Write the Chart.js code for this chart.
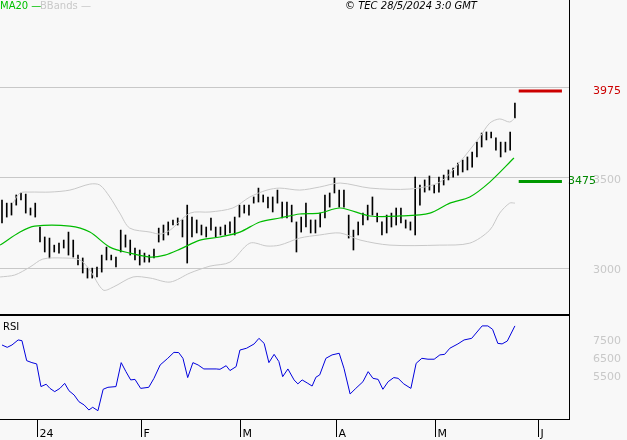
<!DOCTYPE html>
<html><head><meta charset="utf-8">
<script src="https://cdn.jsdelivr.net/npm/chart.js@4"></script>
<style>
body{margin:0;background:#f8f8f8;width:627px;height:440px;overflow:hidden;position:relative;font-family:"DejaVu Sans",sans-serif}
canvas{position:absolute;left:0}
#c1{top:0}
#c2{top:316px}
#sep{position:absolute;left:0;top:314px;width:570px;height:2px;background:#000}
#vline{position:absolute;left:569px;top:0;width:1px;height:419px;background:#000}
.t{position:absolute;font-size:10px;white-space:nowrap}
</style></head><body>
<canvas id="c1" width="627" height="315"></canvas>
<canvas id="c2" width="627" height="124"></canvas>
<div id="sep"></div><div id="vline"></div>
<div class="t" style="left:0;top:0;color:#00c000">MA20 —</div>
<div class="t" style="left:40px;top:0;color:#c8c8c8">BBands —</div>
<div class="t" style="left:345px;top:0;color:#000;font-style:italic">© TEC 28/5/2024 3:0 GMT</div>
<div class="t" style="left:3px;top:321px;color:#000">RSI</div>
<script>
// price bars, one per trading day
const highs = [3373,3356,3356,3401,3412,3406,3329,3356,3224,3169,3163,3124,3135,3152,3196,3152,3069,3053,2997,2997,
  3003,3069,3113,3069,3058,3207,3180,3152,3108,3097,3080,3069,3102,3218,3235,3252,3263,3274,3263,3345,
  3279,3263,3235,3224,3274,3224,3224,3235,3252,3279,3345,3345,3345,3390,3439,3401,3390,3390,3428,3362,
  3362,3345,3252,3279,3356,3263,3263,3301,3401,3412,3495,3428,3428,3290,3207,3252,3301,3345,3390,3301,
  3252,3290,3301,3329,3329,3263,3252,3500,3456,3484,3506,3456,3500,3511,3539,3550,3577,3594,3611,3638,
  3693,3743,3749,3749,3716,3693,3693,3749,3909];
const lows = [3246,3279,3290,3345,3373,3301,3290,3279,3141,3086,3053,3086,3080,3108,3069,3058,3014,2970,2942,2942,
  2948,2975,3042,3042,3003,3086,3113,3069,3042,3014,3030,3030,3053,3141,3152,3180,3235,3235,3169,3025,
  3169,3191,3180,3169,3207,3169,3180,3180,3191,3180,3279,3301,3290,3356,3362,3362,3329,3307,3356,3274,
  3274,3252,3086,3196,3224,3191,3191,3224,3274,3334,3412,3334,3334,3163,3097,3180,3235,3263,3290,3252,
  3180,3191,3224,3235,3246,3218,3207,3180,3345,3417,3428,3412,3417,3456,3484,3500,3511,3528,3539,3555,
  3611,3666,3705,3716,3649,3611,3638,3649,3826];

const maX = [-0.4,3.8,6.9,14.3,18.5,22.7,26.9,31.2,34.3,37.5,41.7,45.9,50.1,54.3,58.5,62.7,66.9,71.2,77.5,83.8,90.1,94.3,98.5,102.7,107.8];
const maV = [3124,3196,3229,3229,3196,3113,3080,3058,3069,3102,3152,3169,3196,3252,3274,3296,3301,3329,3285,3285,3301,3356,3390,3472,3605];

const upX = [2.3,3.8,5.9,10.1,14.3,18.5,20.6,22.7,24.8,26.9,31.2,33.3,35.4,39.6,43.8,48.6,52.2,55.8,58.5,62.7,66.9,71.2,77.5,85.9,92.2,96.4,100.6,102.7,104.8,106.9,108];
const upV = [3356,3412,3417,3417,3428,3461,3456,3390,3301,3218,3196,3185,3207,3301,3307,3329,3390,3428,3439,3428,3445,3467,3439,3434,3472,3583,3721,3798,3821,3804,3826];
const loX = [-0.4,2.7,5.9,8.6,12.8,16.4,18.5,21.3,23.4,27.6,31.2,35.4,39.6,43.8,48,52.2,55.8,58.5,62.7,66.9,71.2,75.4,81.7,92.2,98.5,102.7,104.8,106.9,108];
const loV = [2948,2959,3003,3047,3053,3042,2986,2876,2892,2948,2942,2920,2970,3008,3030,3135,3119,3124,3163,3180,3191,3152,3124,3124,3135,3207,3301,3356,3356];

const rsiX = [0,1.1,2.1,3.4,4.2,5.2,6.3,7.3,8.2,9.3,10.1,11.1,12.2,13.2,14.1,15.2,16.2,17.3,18.3,19.1,20.2,21.3,22.3,24,25.1,26.1,27.1,28,29.2,30.9,32,33.3,34.9,36.2,37.2,38.1,39.1,40.2,41.3,42.5,45.1,45.9,47.2,48,49.3,50.1,51.5,53.1,54.1,55.2,56.2,57.3,58.3,59.1,60.2,61.5,62.3,63.2,64.4,65.3,66.1,66.9,68.2,69.5,71,72,73.3,74.5,76,77.1,78.1,79.2,80.2,81.3,82.5,83.4,84.6,86.1,87.2,88.4,89.7,91,92.2,93.2,94.3,96,97.3,98.9,101.1,102.3,103.3,104.4,105.3,106.4,108];
const rsiV = [71.1,69.8,71.1,73.9,73.5,62.4,61.3,60.6,48,49.3,47,45.2,47,49.8,45.7,43.3,39.6,37.8,35,36.5,34.6,46.5,47.6,48,61.3,56.3,51.7,52,47,47.6,52.6,60,63.7,67,66.9,63.7,53,61.3,60,57.8,57.8,57.6,59.6,56.9,59.1,68.3,69.3,71.7,74.8,72,61.3,65.9,61.9,53.5,57.8,51.7,49.5,51.7,49.8,48.3,53.2,54.5,63.7,65.6,66.5,58.2,43.9,47,50.7,56.3,52.6,52,46.5,50.7,53,52.6,49.5,47,60.9,63.7,63.2,63.2,65.6,65.9,69.3,71.7,73.9,74.8,81.7,81.7,79.8,72,71.7,73.3,81.7];

const priceTicks = [3000,3500,4000];
const priceLabels = ['3000','3500',''];
const rsiTicks = [55,65,75];
const rsiLabels = ['5500','6500','7500'];
const monthLabels = ['24','F','M','A','M','J'];
const monthPos = [7.4,29.3,50.1,70.3,91.2,112.8];
const resistance = 3975, support = 3475;

const X_MIN = -0.42, X_MAX = 119.6;
const pts = (xs, vs) => xs.map((x, i) => ({x: x, y: vs[i]}));

// right-hand tick labels (and optional gridlines) drawn from the y scale
function axisPlugin(ticks, labels, grid) {
  return {
    id: 'rightAxis',
    beforeDatasetsDraw(chart) {
      if (!grid) return;
      const c = chart.ctx, y = chart.scales.y;
      c.save();
      c.strokeStyle = '#c8c8c8';
      c.lineWidth = 1;
      ticks.forEach(v => {
        const py = Math.round(y.getPixelForValue(v)) + 0.5;
        c.beginPath(); c.moveTo(0, py); c.lineTo(570, py); c.stroke();
      });
      c.restore();
    },
    afterDraw(chart) {
      const c = chart.ctx, y = chart.scales.y;
      c.save();
      c.font = '11px DejaVu Sans';
      c.fillStyle = '#c8c8c8';
      c.textBaseline = 'middle';
      ticks.forEach((v, i) => c.fillText(labels[i], 593, y.getPixelForValue(v) + 3));
      c.restore();
    }
  };
}

const levels = {
  id: 'levels',
  afterDraw(chart) {
    const c = chart.ctx, y = chart.scales.y;
    c.save();
    c.font = '11px DejaVu Sans';
    c.textBaseline = 'middle';
    c.fillStyle = '#cc0000';
    c.fillText(String(resistance), 593, y.getPixelForValue(resistance));
    c.fillStyle = '#008800';
    c.fillText(String(support), 568, y.getPixelForValue(support));
    c.restore();
  }
};

new Chart(document.getElementById('c1'), {
  data: {
    datasets: [
      {type: 'line', data: pts(upX, upV), borderColor: '#c8c8c8', borderWidth: 1, pointRadius: 0, tension: 0.3},
      {type: 'line', data: pts(loX, loV), borderColor: '#c8c8c8', borderWidth: 1, pointRadius: 0, tension: 0.3},
      {type: 'line', data: pts(maX, maV), borderColor: '#00bb00', borderWidth: 1.2, pointRadius: 0, tension: 0.3},
      {type: 'bar', data: highs.map((h, i) => ({x: i, y: [lows[i], h]})), backgroundColor: '#000', barThickness: 1, grouped: false},
      {type: 'line', data: [{x: 108.8, y: resistance}, {x: 117.9, y: resistance}], borderColor: '#cc0000', borderWidth: 3, pointRadius: 0},
      {type: 'line', data: [{x: 108.8, y: support}, {x: 117.9, y: support}], borderColor: '#009900', borderWidth: 3, pointRadius: 0}
    ]
  },
  options: {
    responsive: false, animation: false,
    layout: {padding: {left: 0, top: 0, bottom: 0, right: 57}},
    plugins: {legend: {display: false}, tooltip: {enabled: false}},
    scales: {
      x: {type: 'linear', min: X_MIN, max: X_MAX, display: false, offset: false},
      y: {min: 2738, max: 4478, display: false}
    }
  },
  plugins: [axisPlugin(priceTicks, priceLabels, true), levels]
});

const months = {
  id: 'months',
  afterDraw(chart) {
    const c = chart.ctx, x = chart.scales.x, bottom = chart.chartArea.bottom;
    c.save();
    c.strokeStyle = '#000';
    c.fillStyle = '#000';
    c.font = '11px DejaVu Sans';
    c.textBaseline = 'bottom';
    c.beginPath();
    c.moveTo(0, bottom + 0.5); c.lineTo(570, bottom + 0.5);
    monthPos.forEach((p, i) => {
      const px = Math.round(x.getPixelForValue(p)) + 0.5;
      c.moveTo(px, bottom); c.lineTo(px, bottom + 18);
      c.fillText(monthLabels[i], px + 2, bottom + 21);
    });
    c.stroke();
    c.restore();
  }
};

new Chart(document.getElementById('c2'), {
  type: 'line',
  data: {datasets: [{data: pts(rsiX, rsiV), borderColor: '#0000dd', borderWidth: 1, pointRadius: 0}]},
  options: {
    responsive: false, animation: false,
    layout: {padding: {left: 0, top: 0, bottom: 21, right: 57}},
    plugins: {legend: {display: false}, tooltip: {enabled: false}},
    scales: {
      x: {type: 'linear', min: X_MIN, max: X_MAX, display: false},
      y: {min: 30, max: 87.2, display: false}
    }
  },
  plugins: [axisPlugin(rsiTicks, rsiLabels, false), months]
});
</script>
</body></html>
